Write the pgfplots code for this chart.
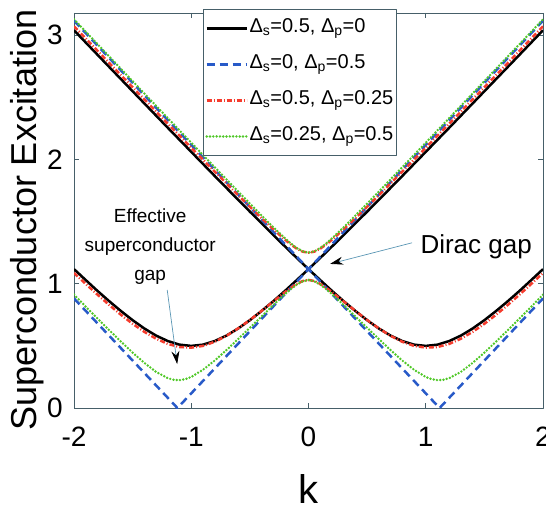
\documentclass[border=0pt]{standalone}
\usepackage{fontspec}
\setmainfont{Liberation Sans}
\usepackage{pgfplots}
\pgfplotsset{compat=1.18}
\usetikzlibrary{arrows.meta}
\definecolor{mblue}{RGB}{40,90,200}
\definecolor{mred}{RGB}{245,60,45}
\definecolor{mgreen}{RGB}{80,200,40}
\definecolor{axcol}{RGB}{70,95,105}
\definecolor{arrcol}{RGB}{90,150,180}
\begin{document}
\begin{tikzpicture}
\begin{axis}[
 scale only axis, width=469pt, height=395pt,
 xmin=-2, xmax=2, ymin=0, ymax=3.18,
 xtick={-2,-1,0,1,2}, xticklabels={-2,-1,0,1,2},
 ytick={0,1,2,3}, yticklabels={0,1,2,3},
 tick align=inside, major tick length=5pt,
 axis line style={axcol, line width=0.9pt},
 every tick/.style={axcol, line width=0.9pt},
 tick label style={font=\fontsize{28}{32}\selectfont},
 xticklabel style={anchor=north, inner sep=0pt, yshift=-19pt},
 yticklabel style={anchor=east, inner sep=0pt, xshift=-11pt},
 xlabel={k}, ylabel={Superconductor Excitation},
 xlabel style={font=\fontsize{40}{44}\selectfont, at={(axis description cs:0.5,-0.168)}, anchor=north, inner sep=0pt},
 ylabel style={font=\fontsize{36}{40}\selectfont, at={(axis description cs:-0.099,0.476)}, anchor=center},
 legend cell align=left,
 legend style={at={(0.275,1.01)}, anchor=north west, draw=axcol, line width=0.8pt,
   font=\fontsize{20}{24}\selectfont, inner xsep=2pt, inner ysep=1pt, row sep=0pt,
   nodes={inner xsep=1.5pt, inner ysep=7pt, text height=15pt, text depth=7pt}},
 legend image code/.code={\draw[#1] (0pt,0pt) -- (40pt,0pt);},
 line join=round,
]
\coordinate (bl) at (rel axis cs:0,0);
\coordinate (tr) at (rel axis cs:1,1);
% black: Ds=0.5, Dp=0
\addplot[black, line width=2.5pt] coordinates {(-2,1.118)(-1.9,1.030)(-1.8,0.943)(-1.7,0.860)(-1.6,0.781)(-1.5,0.707)(-1.4,0.640)(-1.3,0.583)(-1.2,0.539)(-1.1,0.510)(-1,0.500)(-0.9,0.510)(-0.8,0.539)(-0.7,0.583)(-0.6,0.640)(-0.5,0.707)(-0.4,0.781)(-0.3,0.860)(-0.2,0.943)(-0.1,1.030)(0,1.118)(0.1,1.030)(0.2,0.943)(0.3,0.860)(0.4,0.781)(0.5,0.707)(0.6,0.640)(0.7,0.583)(0.8,0.539)(0.9,0.510)(1,0.500)(1.1,0.510)(1.2,0.539)(1.3,0.583)(1.4,0.640)(1.5,0.707)(1.6,0.781)(1.7,0.860)(1.8,0.943)(1.9,1.030)(2,1.118)};
\addlegendentry{Δ\textsubscript{s}=0.5, Δ\textsubscript{p}=0}
\addplot[black, line width=2.5pt, forget plot] coordinates {(-2,3.041)(-1.8,2.844)(-1.6,2.648)(-1.4,2.452)(-1.2,2.256)(-1,2.062)(-0.9,1.965)(-0.8,1.868)(-0.7,1.772)(-0.6,1.676)(-0.5,1.581)(-0.4,1.487)(-0.3,1.393)(-0.2,1.300)(-0.1,1.208)(0,1.118)(0.1,1.208)(0.2,1.300)(0.3,1.393)(0.4,1.487)(0.5,1.581)(0.6,1.676)(0.7,1.772)(0.8,1.868)(0.9,1.965)(1,2.062)(1.2,2.256)(1.4,2.452)(1.6,2.648)(1.8,2.844)(2,3.041)};
% blue: Ds=0, Dp=0.5
\addplot[mblue, line width=2.5pt, dash pattern=on 8pt off 5pt] coordinates {(-2,0.882)(-1.118,0)(0,1.118)(1.118,0)(2,0.882)};
\addlegendentry{Δ\textsubscript{s}=0, Δ\textsubscript{p}=0.5}
\addplot[mblue, line width=2.5pt, dash pattern=on 8pt off 5pt, forget plot] coordinates {(-2,3.118)(0,1.118)(2,3.118)};
% red: Ds=0.5, Dp=0.25
\addplot[mred, line width=2.5pt, dash pattern=on 5pt off 2pt on 1pt off 2pt] coordinates {(-2,1.087)(-1.9,0.999)(-1.8,0.913)(-1.7,0.830)(-1.6,0.751)(-1.5,0.678)(-1.4,0.613)(-1.3,0.558)(-1.2,0.516)(-1.1,0.491)(-1,0.486)(-0.9,0.500)(-0.8,0.533)(-0.7,0.581)(-0.6,0.641)(-0.5,0.708)(-0.4,0.782)(-0.3,0.858)(-0.2,0.933)(-0.15,0.968)(-0.1,0.999)(-0.05,1.022)(0,1.031)(0.05,1.022)(0.1,0.999)(0.15,0.968)(0.2,0.933)(0.3,0.858)(0.4,0.782)(0.5,0.708)(0.6,0.641)(0.7,0.581)(0.8,0.533)(0.9,0.500)(1,0.486)(1.1,0.491)(1.2,0.516)(1.3,0.558)(1.4,0.613)(1.5,0.678)(1.6,0.751)(1.7,0.830)(1.8,0.913)(1.9,0.999)(2,1.087)};
\addlegendentry{Δ\textsubscript{s}=0.5, Δ\textsubscript{p}=0.25}
\addplot[mred, line width=2.5pt, dash pattern=on 5pt off 2pt on 1pt off 2pt, forget plot] coordinates {(-2,3.073)(-1.8,2.876)(-1.6,2.680)(-1.4,2.484)(-1.2,2.289)(-1,2.095)(-0.9,1.999)(-0.8,1.903)(-0.7,1.808)(-0.6,1.713)(-0.5,1.620)(-0.4,1.528)(-0.3,1.439)(-0.2,1.355)(-0.15,1.316)(-0.1,1.283)(-0.05,1.259)(0,1.250)(0.05,1.259)(0.1,1.283)(0.15,1.316)(0.2,1.355)(0.3,1.439)(0.4,1.528)(0.5,1.620)(0.6,1.713)(0.7,1.808)(0.8,1.903)(0.9,1.999)(1,2.095)(1.2,2.289)(1.4,2.484)(1.6,2.680)(1.8,2.876)(2,3.073)};
% green: Ds=0.25, Dp=0.5
\addplot[mgreen, line width=2.7pt, line cap=round, dash pattern=on 0pt off 3.3pt] coordinates {(-2,0.913)(-1.9,0.816)(-1.8,0.721)(-1.7,0.627)(-1.6,0.535)(-1.5,0.446)(-1.4,0.363)(-1.3,0.291)(-1.2,0.240)(-1.15,0.227)(-1.1,0.224)(-1.05,0.232)(-1,0.250)(-0.9,0.308)(-0.8,0.382)(-0.7,0.466)(-0.6,0.555)(-0.5,0.646)(-0.4,0.737)(-0.3,0.829)(-0.2,0.917)(-0.15,0.957)(-0.1,0.994)(-0.05,1.020)(0,1.031)(0.05,1.020)(0.1,0.994)(0.15,0.957)(0.2,0.917)(0.3,0.829)(0.4,0.737)(0.5,0.646)(0.6,0.555)(0.7,0.466)(0.8,0.382)(0.9,0.308)(1,0.250)(1.05,0.232)(1.1,0.224)(1.15,0.227)(1.2,0.240)(1.3,0.291)(1.4,0.363)(1.5,0.446)(1.6,0.535)(1.7,0.627)(1.8,0.721)(1.9,0.816)(2,0.913)};
\addlegendentry{Δ\textsubscript{s}=0.25, Δ\textsubscript{p}=0.5}
\addplot[mgreen, line width=2.7pt, line cap=round, dash pattern=on 0pt off 3.3pt, forget plot] coordinates {(-2,3.129)(-1.8,2.930)(-1.6,2.731)(-1.4,2.532)(-1.2,2.334)(-1,2.136)(-0.9,2.037)(-0.8,1.939)(-0.7,1.841)(-0.6,1.743)(-0.5,1.646)(-0.4,1.550)(-0.3,1.455)(-0.2,1.366)(-0.15,1.324)(-0.1,1.288)(-0.05,1.261)(0,1.250)(0.05,1.261)(0.1,1.288)(0.15,1.324)(0.2,1.366)(0.3,1.455)(0.4,1.550)(0.5,1.646)(0.6,1.743)(0.7,1.841)(0.8,1.939)(0.9,2.037)(1,2.136)(1.2,2.334)(1.4,2.532)(1.6,2.731)(1.8,2.930)(2,3.129)};
% annotations
\node[font=\fontsize{19}{29}\selectfont, align=center] at (axis cs:-1.35,1.30) {Effective\\superconductor\\gap};
\draw[arrcol, line width=0.7pt, -{Stealth[length=13pt,width=8pt,color=black]}] (axis cs:-1.205,0.95) -- (axis cs:-1.12,0.354);
\node[font=\fontsize{26}{30}\selectfont] at (axis cs:1.43,1.30) {Dirac gap};
\draw[arrcol, line width=0.7pt, -{Stealth[length=13pt,width=8pt,color=black]}] (axis cs:0.883,1.33) -- (axis cs:0.184,1.16);
\end{axis}
\pgfresetboundingbox
\path[use as bounding box] ([xshift=-74pt,yshift=-105pt]bl) rectangle ([xshift=3pt,yshift=13pt]tr);
\end{tikzpicture}
\end{document}
